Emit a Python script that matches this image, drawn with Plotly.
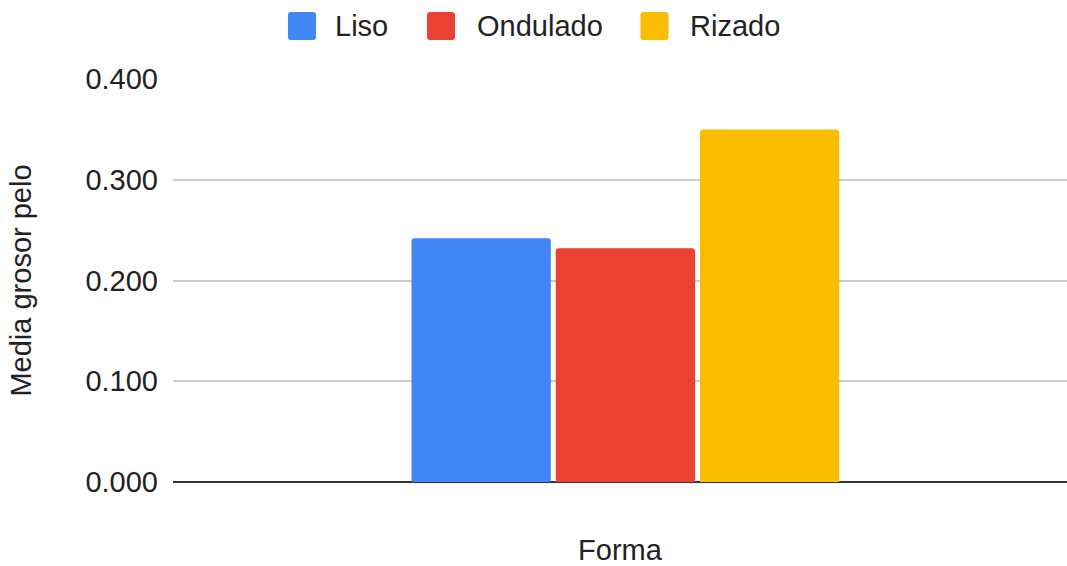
import plotly.graph_objects as go

# Data
series_names = ["Liso", "Ondulado", "Rizado"]
series_values = [0.242, 0.232, 0.350]
categories = [""]
colors = ["#4285F4", "#EA4335", "#FBBC04"]
y_ticks = [0.0, 0.1, 0.2, 0.3, 0.4]
y_tick_labels = ["0.000", "0.100", "0.200", "0.300", "0.400"]

FONT = "Liberation Sans, Arial, sans-serif"
FS = 29
TXT = "#222222"
W, H = 1067, 566
L, R, T, B = 173, 0, 79, 84
pw, ph = W - L - R, H - T - B

fig = go.Figure()
for name, val, col in zip(series_names, series_values, colors):
    fig.add_trace(go.Bar(x=categories, y=[val], name=name, marker=dict(color=col, line=dict(width=0)),
                         showlegend=False))

# Manual legend (large rounded squares like the original)
legend_sq_x = [302, 441, 654.5]
legend_txt_x = [333, 475, 688]
legend_y = 26
for name, col, sx, tx in zip(series_names, colors, legend_sq_x, legend_txt_x):
    fig.add_shape(type="path", xref="paper", yref="paper", xsizemode="pixel", ysizemode="pixel",
                  xanchor=(sx - L) / pw, yanchor=(H - B - legend_y) / ph,
                  path="M -11 -14 L 11 -14 Q 14 -14 14 -11 L 14 11 Q 14 14 11 14 L -11 14 Q -14 14 -14 11 L -14 -11 Q -14 -14 -11 -14 Z",
                  fillcolor=col, line=dict(width=0))
    fig.add_annotation(x=(tx - L) / pw, y=(H - B - legend_y) / ph, xref="paper", yref="paper",
                       text=name, showarrow=False, xanchor="left", yanchor="middle",
                       font=dict(family=FONT, size=FS, color=TXT))

fig.update_layout(
    width=W, height=H,
    margin=dict(l=L, r=R, t=T, b=B),
    paper_bgcolor="white", plot_bgcolor="white",
    bargap=0.516, bargroupgap=0.034, barmode="group",
    barcornerradius=3,
    font=dict(family=FONT, size=FS, color=TXT),
)
fig.update_xaxes(range=[-0.506, 0.494], showticklabels=False, showgrid=False, ticks="",
                 title=dict(text="Forma", font=dict(size=FS, family=FONT, color=TXT), standoff=63),
                 showline=False, zeroline=False)
fig.update_yaxes(range=[0, 0.4], tickvals=y_ticks, ticktext=y_tick_labels, showgrid=True,
                 gridcolor="#cccccc", gridwidth=2, zeroline=True, zerolinecolor="#333333", zerolinewidth=2,
                 ticks="", ticklabelstandoff=14,
                 tickfont=dict(size=FS, family=FONT, color=TXT),
                 title=dict(text="Media grosor pelo", font=dict(size=FS, family=FONT, color=TXT), standoff=45))

fig.write_html("out.html", config={"displayModeBar": False},
               post_script="document.body.style.margin='0';document.body.style.overflow='hidden';")
